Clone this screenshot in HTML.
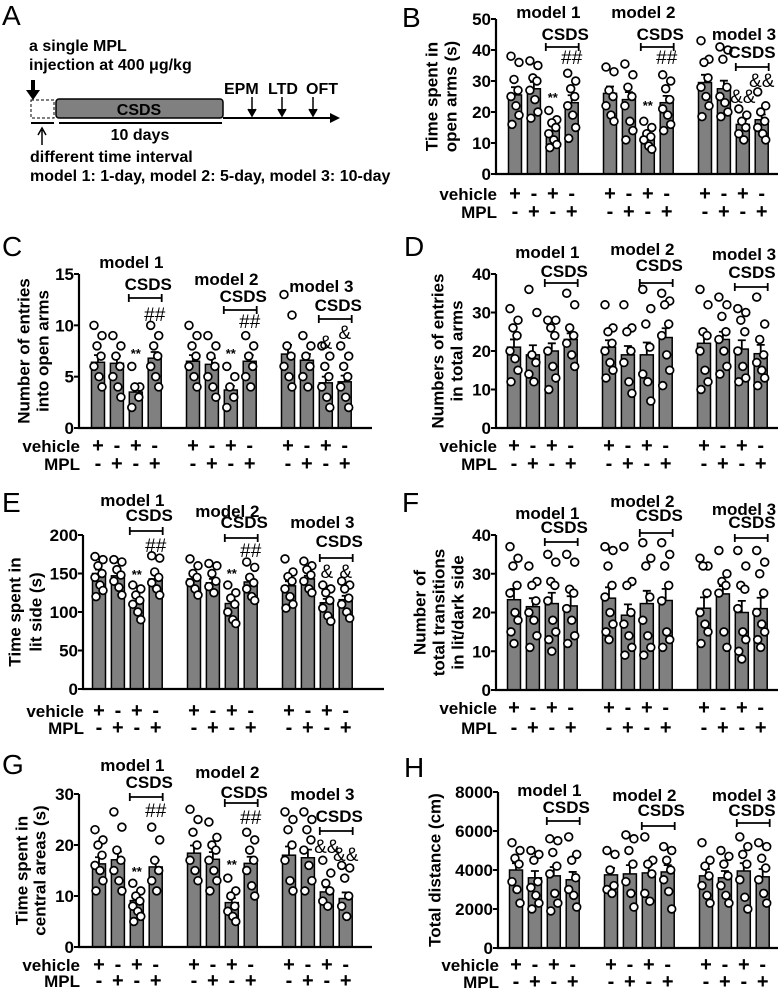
<!DOCTYPE html>
<html><head><meta charset="utf-8"><style>
html,body{margin:0;padding:0;background:#fff}
svg{display:block}
text{font-family:"Liberation Sans",Arial,sans-serif;font-weight:bold;fill:#000}
</style></head><body>
<svg id="fig" width="778" height="991" viewBox="0 0 778 991" xmlns="http://www.w3.org/2000/svg">
<g id="panelA">
<text x="2" y="25" style="font-weight:normal;font-size:28px">A</text>
<text x="29" y="51" font-size="16">a single MPL</text>
<text x="29" y="70" font-size="16">injection at 400 μg/kg</text>
<path d="M33 80 V92" stroke="#000" stroke-width="4"/>
<path d="M26 90 L40 90 L33 100 Z" fill="#000"/>
<rect x="31" y="100" width="23" height="18" fill="none" stroke="#000" stroke-dasharray="3,2"/>
<rect x="56" y="99" width="167" height="19" rx="3" fill="#808080" stroke="#000" stroke-width="1.5"/>
<text x="139" y="115" font-size="16" text-anchor="middle">CSDS</text>
<path d="M223 118 H332" stroke="#000" stroke-width="2"/>
<path d="M330 113 L340 118 L330 123 Z" fill="#000"/>
<text x="224" y="94" font-size="16">EPM</text>
<text x="268" y="94" font-size="16">LTD</text>
<text x="306" y="94" font-size="16">OFT</text>
<g stroke="#000" stroke-width="1.5" fill="#000">
<path d="M252 97 V114 M248 109 L252 116 L256 109"/>
<path d="M282 97 V114 M278 109 L282 116 L286 109"/>
<path d="M313 97 V114 M309 109 L313 116 L317 109"/>
</g>
<path d="M31 123 H54 M59 123 H222" stroke="#000" stroke-width="2"/>
<text x="140" y="140" font-size="16" text-anchor="middle">10 days</text>
<path d="M42 145 V130 M38 135 L42 128 L46 135" stroke="#000" stroke-width="1.5" fill="none"/>
<text x="30" y="162" font-size="16">different time interval</text>
<text x="30" y="181" font-size="16">model 1: 1-day, model 2: 5-day, model 3: 10-day</text>
</g>
</svg>
<script>
// ---------- data ----------
const groups = ["model 1","model 2","model 3"];
const vehicleSigns = ["+","-","+","-"];
const mplSigns = ["-","+","-","+"];

const bMeans = [25.5,27.5,14,23, 26,24,11.5,23, 29.5,27.5,16,17.5];
const bSem = [2.5,2.2,1.4,2.4, 2.2,2.4,1.0,2.2, 2.5,2.6,1.3,1.7];
const bDots = [[38,36,30.5,27,25,22,19,16],[36.5,35,31,30,27,24,20,18],[20.5,17.5,16.5,15,13,11,9.5,8.5],[32.5,30,27.5,25,22,19,15,11.5],
 [34.5,33,27,25,22,19,17],[35.5,32,28,25,22,17,14,11],[17,15,13,12,11,9,8],[32,30,27.5,24,21,19,16,14],
 [43,37,36,31,28,25,22,18.5],[41,40,37,28,25,23,20,18.5],[21,19,17,15,13,11],[26.5,22,20,17,15,13,11]];

const cMeans = [6.4,6.3,3.5,6.8, 6.5,6.2,3.7,6.5, 7.2,6.6,4.4,4.5];
const cSem = [0.7,0.7,0.4,0.6, 0.6,0.6,0.4,0.6, 0.9,0.6,0.6,0.6];
const cDots = [[10,9,8,7,6,5,4],[9,8,7,6,5,4,3],[6,4,4,3,2],[10,9,8,7,6,5,4],
 [10,9,8,7,6,5,4],[9,8,7,6,5,4,3],[6,5,4,3,2],[9,8,7,6,5,4],
 [13,11,8,7,6,5,4],[9,8,7,6,5,4],[8,7,6,5,4,3,2],[8,7,6,5,4,3,2]];

const dMeans = [21,19,20,23, 21,19,19,23.5, 22,23,20.5,19.3];
const dSem = [2,2.5,2,1.6, 1.8,2.3,3.2,2.4, 2.5,2,2.3,2.3];
const dDots = [[31,28,26,24,20,18,15,12],[36,30,19,17,14,12],[28,28,26,24,20,16,13,10],[35,32,26,24,22,19,16],
 [32,26,25,22,20,17,15,13],[32,26,25,20,17,12,9],[36,31,27,21,14,12,7],[35,33,32,27,24,19,15,11],
 [36,32,25,24,20,15,12,10],[34,32,29,25,23,20,16,14],[31,30,28,25,20,16,13,12],[34,27,23,19,17,15,13,11]];

const eMeans = [150,147,113,143, 143,138,111,139, 134,143,112,116];
const eSem = [5,5,5,5, 5,5,5,4, 6,4,5,5];
const eDots = [[172,168,160,150,145,135,128,120],[168,165,155,148,140,132,122],[135,130,122,115,110,100,90],[173,170,152,145,138,130,122],
 [169,160,150,145,138,130,122],[163,160,150,140,133,125],[135,125,118,110,100,90,85],[165,158,145,138,130,120,115],
 [169,152,146,140,130,120,110,105],[166,160,155,148,140,130,125],[135,130,125,115,105,95,88],[140,135,130,118,110,100,92]];

const fMeans = [23.3,21.5,22.3,21.7, 23.7,19.3,22.3,23.1, 21.1,24.8,20,21];
const fSem = [2.8,2.2,2.8,2.5, 2.8,2.8,3.3,3, 2.8,2,3,2.8];
const fDots = [[37,34,32,27,25,20,18,15,12],[32,28,27,23,20,18,14,11],[35,33,28,27,23,18,15,13,10],[35,33,26,25,21,18,14,12],
 [37,36,32,27,24,20,17,15,13],[37,28,27,20,17,14,11,9],[38,34,32,24,18,14,11,9],[38,35,32,27,23,15,13,11],
 [34,32,32,25,20,17,15,12],[36,30,28,27,25,15,11],[36,32,27,26,21,15,13,10,8],[36,33,30,25,20,17,15,13,11]];

const gMeans = [16.3,17.1,9.1,15.7, 18.4,17.2,8.7,16.4, 18,17.5,10.8,9.5];
const gSem = [1.3,1.6,0.8,1.3, 1.5,1.4,0.9,1.3, 1.7,1.6,0.9,1.2];
const gDots = [[23,21,20,18,16,15,13,11],[26.5,23.5,19,17,15,13,11],[12.5,11,10,9,8,7,6,5],[23.5,21,17,15,13,11],
 [27,25,22.5,20,17,15,13],[24.5,21.5,20,19,17,15,13,11],[13.5,11,10,8,7,6,5],[22.5,21,19,17,15,12,10],
 [26.5,25,23,20,17,13,11],[26.5,25,23,21,19,16,13,11],[17,14.5,12.5,11,9,8],[16,15.5,13.5,10,8,6]];

const hMeans = [4000,3600,3700,3500, 3750,3800,3850,3900, 3700,3600,3950,3650];
const hSem = [350,350,450,400, 350,450,400,350, 350,350,400,400];
const hDots = [[5400,5000,4600,4300,3400,3000,2300],[5000,4800,4500,3400,3100,2700,2300,2000],[5600,5500,4900,4200,3800,2800,2300,1900],[5700,4800,4500,3600,3000,2700,2100],
 [5000,4800,4000,3200,3000,2800],[5800,5600,5000,4300,3400,2800,2100],[5700,4500,4300,3800,2800,2400],[5200,5000,4500,4000,3500,2900,2000],
 [5400,4500,4200,3700,3200,2700,2300],[5000,4700,4300,3700,3200,2700,2300],[5700,5200,4800,4300,3500,2600,2000],[5400,5200,4600,4100,3500,2800,2300]];

const bTicks = [0,10,20,30,40,50];
const cTicks = [0,5,10,15];
const dTicks = [0,10,20,30,40];
const eTicks = [0,50,100,150,200];
const fTicks = [0,10,20,30,40];
const gTicks = [0,10,20,30];
const hTicks = [0,2000,4000,6000,8000];

// ---------- layout ----------
const NS = "http://www.w3.org/2000/svg";
const svg = document.getElementById("fig");
function mk(tag, attrs, parent, txt){
  const e = document.createElementNS(NS, tag);
  for (const k in attrs) e.setAttribute(k, attrs[k]);
  if (txt !== undefined) e.textContent = txt;
  parent.appendChild(e);
  return e;
}
const jitter = [-4,4,-1,3,-4,1,4,-3,0];

const panels = [
 {id:"b",letter:"B",lx:402,ly:27,ax:496,x0:515,end:778,top:19,bot:174,veh:200,mpl:218,means:bMeans,sem:bSem,dots:bDots,ticks:bTicks,
  ytitle:["Time spent in","open arms (s)"],tx:[432,451],
  hdr:[[18,40,47],[18,40,47],[40,58,67]],ann:[[2,"**",102],[3,"##",64],[6,"**",110],[7,"##",64],[10,"&&",103],[11,"&&",87]]},
 {id:"c",letter:"C",lx:2,ly:256,ax:79,x0:98,end:372,top:274,bot:428,veh:452,mpl:470,means:cMeans,sem:cSem,dots:cDots,ticks:cTicks,
  ytitle:["Number of entries","into open arms"],tx:[24,43],
  hdr:[[268,290,298],[285,302,310],[292,311,319]],ann:[[2,"**",358],[3,"##",321],[6,"**",358],[7,"##",328],[10,"&",349],[11,"&",339]]},
 {id:"d",letter:"D",lx:404,ly:256,ax:496,x0:514,end:778,top:274,bot:428,veh:452,mpl:470,means:dMeans,sem:dSem,dots:dDots,ticks:dTicks,
  ytitle:["Numbers of entries","in total arms"],tx:[438,457],
  hdr:[[258,277,283],[255,271,283],[260,278,287]],ann:[]},
 {id:"e",letter:"E",lx:2,ly:512,ax:83,x0:99,end:384,top:535,bot:689,veh:717,mpl:734,means:eMeans,sem:eSem,dots:eDots,ticks:eTicks,
  ytitle:["Time spent in","lit side (s)"],tx:[15,36],
  hdr:[[506,521,531],[517,528,538],[528,547,558]],ann:[[2,"**",579],[3,"##",552],[6,"**",578],[7,"##",557],[10,"&",578],[11,"&",578]]},
 {id:"f",letter:"F",lx:402,ly:512,ax:496,x0:514,end:778,top:535,bot:690,veh:714,mpl:734,means:fMeans,sem:fSem,dots:fDots,ticks:fTicks,
  ytitle:["Number of","total transitions","in lit/dark side"],tx:[420,439,458],
  hdr:[[519,533,542],[507,521,533],[515,528,538]],ann:[]},
 {id:"g",letter:"G",lx:2,ly:774,ax:79,x0:99,end:372,top:794,bot:947,veh:971,mpl:987,means:gMeans,sem:gSem,dots:gDots,ticks:gTicks,
  ytitle:["Time spent in","central areas (s)"],tx:[22,40],
  hdr:[[771,788,797],[778,798,803],[800,822,831]],ann:[[2,"**",876],[3,"##",817],[6,"**",869],[7,"##",824],[10,"&&",853],[11,"&&",861]]},
 {id:"h",letter:"H",lx:404,ly:777,ax:498,x0:516,end:778,top:792,bot:948,veh:971,mpl:988,means:hMeans,sem:hSem,dots:hDots,ticks:hTicks,
  ytitle:["Total distance (cm)"],tx:[435],
  hdr:[[796,813,821],[801,816,826],[801,816,823]],ann:[]}
];

const STEP = 18.9, GSTEP = 95, BW = 13;
panels.forEach(p => {
  const g = mk("g", {}, svg);
  
  
  const max = p.ticks[p.ticks.length-1];
  const y = v => p.bot - (v/max)*(p.bot - p.top);
  const xb = i => p.x0 + Math.floor(i/4)*GSTEP + (i%4)*STEP;

  const L = mk("text", {x:p.lx, y:p.ly, style:"font-weight:normal;font-size:28px"}, g, p.letter);
  
  

  p.ytitle.forEach((t, k) => {
    const cy = (p.top + p.bot)/2;
    const yt = mk("text", {x:p.tx[k], y:cy, "font-size":17, "text-anchor":"middle", "dominant-baseline":"central", transform:`rotate(-90 ${p.tx[k]} ${cy})`}, g, t);
    
    
  });

  p.means.forEach((m, i) => {
    const x = xb(i);
    const bar = mk("rect", {x:x-BW/2, y:y(m), width:BW, height:p.bot-y(m), fill:"#808080", stroke:"#000", "stroke-width":1.5}, g);
    
    
    const eb = mk("path", {d:`M${x} ${y(m)} V${y(m+p.sem[i])} M${x-4} ${y(m+p.sem[i])} H${x+4}`, stroke:"#000", "stroke-width":1.8, fill:"none"}, g);
    
    
    p.dots[i].forEach((v, j) => {
      const c = mk("circle", {cx:x + jitter[j%jitter.length], cy:y(v), r:3.9, fill:"#fff", stroke:"#000", "stroke-width":1.7}, g);
      
      
    });
    const vs = mk("text", {x:x, y:p.veh, "font-size":20, "text-anchor":"middle"}, g, vehicleSigns[i%4]);
    
    
    const ms = mk("text", {x:x, y:p.mpl, "font-size":20, "text-anchor":"middle"}, g, mplSigns[i%4]);
    
    
  });

  const ax = mk("path", {d:`M${p.ax} ${p.top} V${p.bot} H${p.end}`, stroke:"#000", "stroke-width":2.2, fill:"none"}, g);
  
  
  p.ticks.forEach(t => {
    const tk = mk("path", {d:`M${p.ax-5} ${y(t)} H${p.ax}`, stroke:"#000", "stroke-width":2}, g);
    
    
    const tl = mk("text", {x:p.ax-5, y:y(t)+6, "font-size":17, "text-anchor":"end"}, g, String(t));
    
    
  });
  const vl = mk("text", {x:p.ax+1, y:p.veh, "font-size":17, "text-anchor":"end"}, g, "vehicle");
  
  
  const ml = mk("text", {x:p.ax+1, y:p.mpl, "font-size":17, "text-anchor":"end"}, g, "MPL");
  
  

  groups.forEach((gn, k) => {
    const h = p.hdr[k];
    const mid = (xb(k*4) + xb(k*4+3))/2 + (k===2 && p.end>700 ? 12 : 5);
    const tt = mk("text", {x:Math.min(mid, 744), y:h[0], "font-size":17, "text-anchor":"middle"}, g, gn);
    
    
    const x3 = xb(k*4+2) - 7, x4 = xb(k*4+3) + 7;
    const cs = mk("text", {x:Math.min((x3+x4)/2+3, 752), y:h[1], "font-size":17, "text-anchor":"middle"}, g, "CSDS");
    
    
    const br = mk("path", {d:`M${x3} ${h[2]-4} V${h[2]+4} M${x3} ${h[2]} H${x4} M${x4} ${h[2]-4} V${h[2]+4}`, stroke:"#000", "stroke-width":1.8, fill:"none"}, g);
    
    
  });

  p.ann.forEach(a => {
    const small = a[1] === "**";
    const s = mk("text", {x:xb(a[0]), y:a[2], "font-size":small ? 13 : 19, "text-anchor":"middle", style:small ? "" : "font-weight:normal"}, g, a[1]);
    
    
  });
});
</script>
</body></html>
